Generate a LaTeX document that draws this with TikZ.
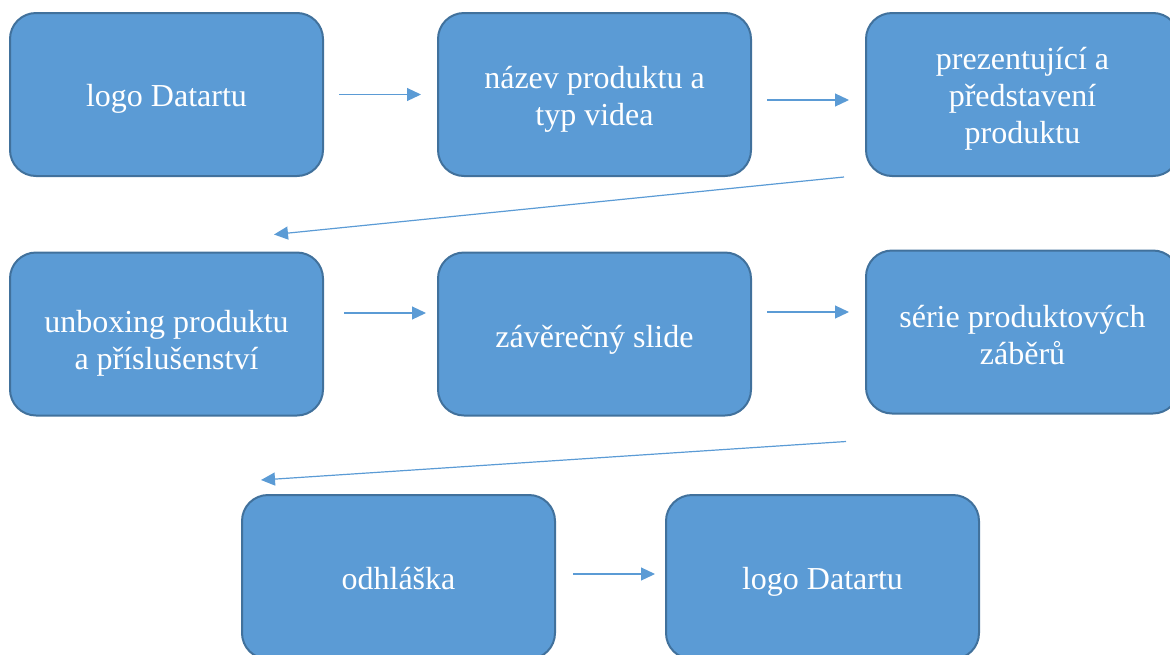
\documentclass[tikz,border=0pt]{standalone}
\usepackage{fontspec}
\setmainfont{Liberation Serif}
\usetikzlibrary{arrows.meta}
\definecolor{boxfill}{HTML}{5B9BD5}
\definecolor{boxline}{HTML}{41719C}
\definecolor{arrowc}{HTML}{5B9BD5}
\newcommand{\lw}[2][-5pt]{\raisebox{#1}[\height][\depth]{\begin{tabular}{@{}c@{}}#2\end{tabular}}}
\begin{document}
\begin{tikzpicture}[x=1pt,y=-1pt,
  stepbox/.style={draw=boxline, line width=2pt, fill=boxfill, rounded corners=26pt,
    minimum width=313pt, minimum height=163pt, inner sep=0pt, text=white,
    font=\fontsize{32}{37}\selectfont},
  conn/.style={draw=arrowc, line width=1.2pt, -{Triangle[length=14pt,width=13pt]}}]
\useasboundingbox (0,0) rectangle (1170,654);
\node[stepbox] (b1) at (166.5,94.5) {\lw{logo Datartu}};
\node[stepbox] (b2) at (594.5,94.5) {\lw{název produktu a\\typ videa}};
\node[stepbox] (b3) at (1022.5,94.5) {\lw{prezentující a\\představení\\produktu}};
\node[stepbox] (b4) at (166.5,334) {\lw[-10pt]{unboxing produktu\\a příslušenství}};
\node[stepbox] (b5) at (594.5,334) {\lw[-6pt]{závěrečný slide}};
\node[stepbox] (b6) at (1022.5,332) {\lw[-7pt]{série produktových\\záběrů}};
\node[stepbox, minimum height=164pt] (b7) at (398.5,577) {\lw{odhláška}};
\node[stepbox, minimum height=164pt] (b8) at (822.5,577) {\lw{logo Datartu}};
\draw[conn, shorten <=15pt, shorten >=16pt] (b1.east) -- (b2.west);
\draw[conn, shorten <=15pt, shorten >=16pt] ([yshift=-5.5pt]b2.east) -- ([yshift=-5.5pt]b3.west);
\draw[conn] ([xshift=-21pt]b3.south west) -- ([xshift=265pt,yshift=17pt]b4.north west);
\draw[conn, shorten <=20pt, shorten >=11pt] ([yshift=21pt]b4.east) -- ([yshift=21pt]b5.west);
\draw[conn, shorten <=15pt, shorten >=16pt] ([yshift=22pt]b5.east) -- ([yshift=20pt]b6.west);
\draw[conn] ([xshift=-19pt,yshift=-27pt]b6.south west) -- ([xshift=20pt,yshift=14pt]b7.north west);
\draw[conn, shorten <=17pt, shorten >=10pt] ([yshift=3pt]b7.east) -- ([yshift=3pt]b8.west);
\end{tikzpicture}
\end{document}
